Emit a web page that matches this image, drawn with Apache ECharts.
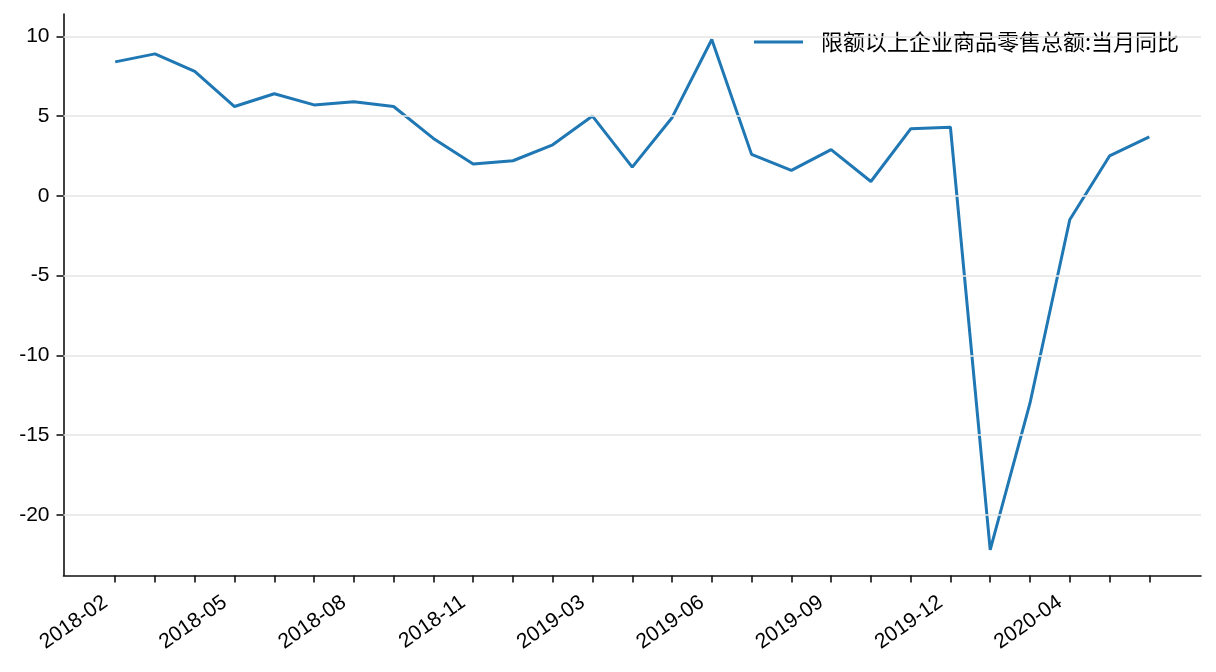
<!DOCTYPE html>
<html><head><meta charset="utf-8">
<script src="https://cdn.jsdelivr.net/npm/echarts@6/dist/echarts.min.js"></script>
<style>html,body{margin:0;padding:0;background:#fff}#c{width:1216px;height:672px}</style>
</head><body><div id="c"></div>
<script>
const categories = ['2018-02','2018-03','2018-04','2018-05','2018-06','2018-07','2018-08','2018-09','2018-10','2018-11','2018-12','2019-02','2019-03','2019-04','2019-05','2019-06','2019-07','2019-08','2019-09','2019-10','2019-11','2019-12','2020-02','2020-03','2020-04','2020-05','2020-06'];
const values = [8.4, 8.9, 7.8, 5.6, 6.4, 5.7, 5.9, 5.6, 3.6, 2.0, 2.2, 3.2, 5.0, 1.8, 4.9, 9.8, 2.6, 1.6, 2.9, 0.9, 4.2, 4.3, -22.2, -13.0, -1.5, 2.5, 3.7];
const seriesName = '限额以上企业商品零售总额:当月同比';
const xLabelIdx = [0, 3, 6, 9, 12, 15, 18, 21, 24];
const yTicks = [-20, -15, -10, -5, 0, 5, 10];

const tickIdx = categories.map((_, i) => i);
const points = values.map((v, i) => [i, v]);
const axisColor = '#111';
const chart = echarts.init(document.getElementById('c'), null, {renderer: 'canvas'});
const option = {
  animation: false,
  backgroundColor: '#fff',
  grid: {left: 63.5, right: 15, top: 14, bottom: 96.5, containLabel: false},
  legend: {
    data: [seriesName], left: 754, top: 31, padding: 0,
    icon: 'rect', itemWidth: 49, itemHeight: 3,
    textStyle: {fontSize: 22, fontFamily: 'Noto Sans CJK SC', color: '#000', padding: [0, 0, 0, 13]}
  },
  xAxis: {
    type: 'value', min: -1.3, max: 27.3,
    splitLine: {show: false},
    axisLine: {onZero: false, lineStyle: {color: axisColor, width: 1.6}},
    axisTick: {show: true, customValues: tickIdx, length: 7, lineStyle: {color: axisColor, width: 1.6}},
    axisLabel: {customValues: xLabelIdx, formatter: v => categories[v], rotate: 35, margin: 18,
      fontSize: 21, fontFamily: 'Liberation Sans', color: '#000', padding: [0, 12, 0, 0]}
  },
  yAxis: {
    type: 'value', min: -23.8, max: 11.4,
    splitLine: {show: false},
    axisLine: {show: true, onZero: false, lineStyle: {color: axisColor, width: 1.6}},
    axisTick: {show: true, customValues: yTicks, length: 7, lineStyle: {color: axisColor, width: 1.6}},
    axisLabel: {customValues: yTicks, margin: 14, fontSize: 21, fontFamily: 'Liberation Sans', color: '#000'}
  },
  series: [
    {
      type: 'line', name: 'grid', data: points, silent: true, z: 1,
      symbol: 'none', lineStyle: {opacity: 0}, tooltip: {show: false},
      markLine: {
        silent: true, symbol: ['none', 'none'], label: {show: false}, animation: false,
        lineStyle: {color: '#e5e5e5', width: 1.6, type: 'solid'},
        emphasis: {disabled: true},
        data: yTicks.map(v => ({yAxis: v}))
      }
    },
    {
      type: 'line', name: seriesName, data: points, z: 3,
      symbol: 'none', showSymbol: false,
      lineStyle: {color: '#1f77b4', width: 3},
      itemStyle: {color: '#1f77b4'}
    }
  ]
};
chart.setOption(option);
</script>
</body></html>
